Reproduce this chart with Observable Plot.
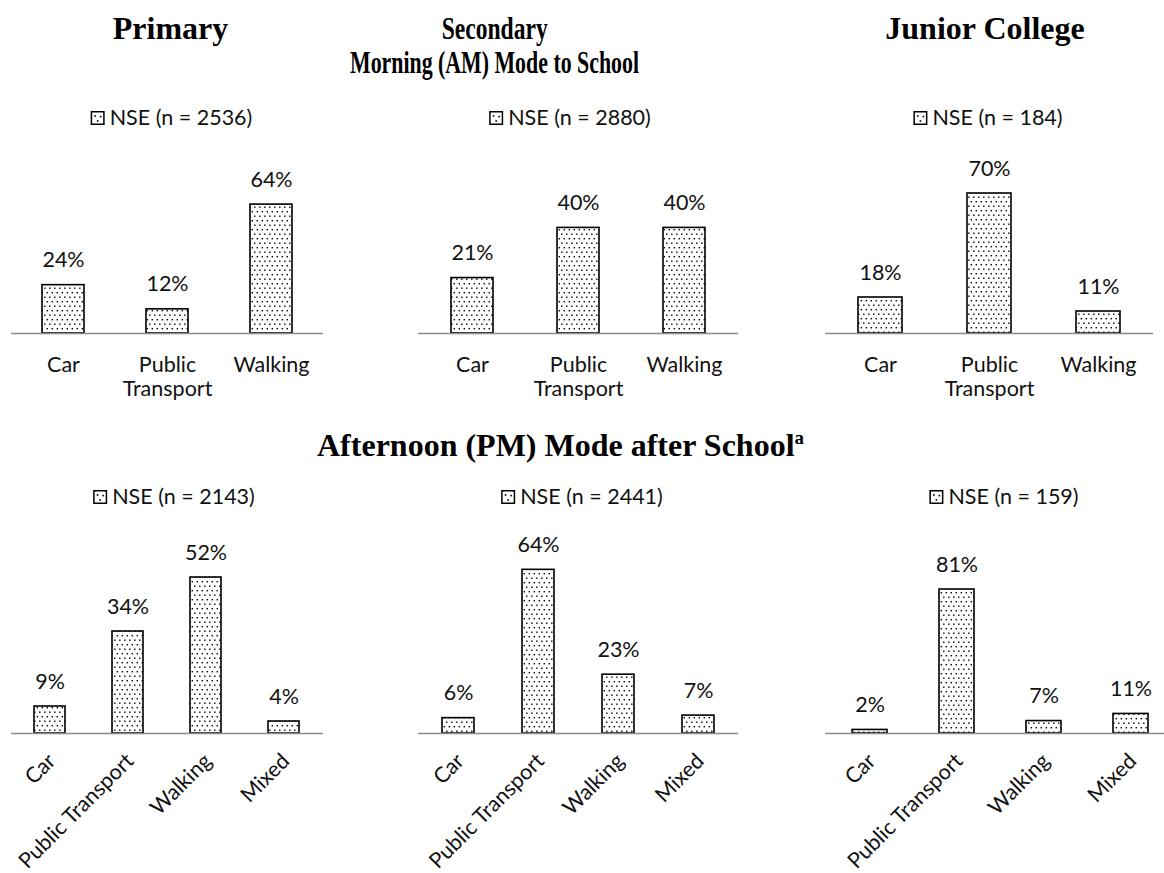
<!DOCTYPE html>
<html>
<head>
<meta charset="utf-8">
<script src="https://cdn.jsdelivr.net/npm/d3@7"></script>
<script src="https://cdn.jsdelivr.net/npm/@observablehq/plot@0.6"></script>
<style>
  body { margin: 0; background: #fff; }
  #page { position: relative; width: 1164px; height: 873px; overflow: hidden; background: #fff; }
  #overlay { position: absolute; left: 0; top: 0; pointer-events: none; }
</style>
</head>
<body>
<div id="page"></div>
<script>
// Travel mode shares (%) of NSE students, by school level and trip.
const levels = ["Primary", "Secondary", "Junior College"];
const amModes = ["Car", "Public Transport", "Walking"];
const pmModes = ["Car", "Public Transport", "Walking", "Mixed"];

const primaryAM = [24, 12, 64];
const secondaryAM = [21, 40, 40];
const juniorAM = [18, 70, 11];

const primaryPM = [9, 34, 52, 4];
const secondaryPM = [6, 64, 23, 7];
const juniorPM = [2, 81, 7, 11];

const amSampleSizes = [2536, 2880, 184];
const pmSampleSizes = [2143, 2441, 159];

const amHeading = "Morning (AM) Mode to School";
const pmHeading = "Afternoon (PM) Mode after School";
const legendName = "NSE";

const labelFont = "Lato, 'Open Sans', sans-serif";
const labelSize = 21.5;
const headFont = "'Liberation Serif', 'Times New Roman', serif";
const ink = "#111";

const page = document.getElementById("page");

// Overlay holds the shared fill pattern, headings and legends.
const overlay = d3.select(page).append("svg")
  .attr("id", "overlay")
  .attr("width", 1164)
  .attr("height", 873);

const defs = overlay.append("defs");
const pat = defs.append("pattern")
  .attr("id", "nse-dots")
  .attr("patternUnits", "userSpaceOnUse")
  .attr("width", 5)
  .attr("height", 9);
pat.append("rect").attr("width", 5).attr("height", 9).attr("fill", "#fff");
pat.append("rect").attr("x", 0.6).attr("y", 1).attr("width", 1.4).attr("height", 1.4).attr("fill", "#000");
pat.append("rect").attr("x", 3.1).attr("y", 5.5).attr("width", 1.4).attr("height", 1.4).attr("fill", "#000");

// Panel layout: category axis extent, baseline and value range of each small chart.
const panels = [
  {modes: amModes, values: primaryAM,   x0: 11,  x1: 323,  base: 332.5, ymax: 70, h: 141, rotate: false},
  {modes: amModes, values: secondaryAM, x0: 418, x1: 738,  base: 332.5, ymax: 50, h: 132, rotate: false},
  {modes: amModes, values: juniorAM,    x0: 825, x1: 1153, base: 332.5, ymax: 80, h: 160, rotate: false},
  {modes: pmModes, values: primaryPM,   x0: 11,  x1: 323,  base: 732.5, ymax: 60, h: 180, rotate: true},
  {modes: pmModes, values: secondaryPM, x0: 418, x1: 738,  base: 732.5, ymax: 70, h: 179, rotate: true},
  {modes: pmModes, values: juniorPM,    x0: 825, x1: 1175, base: 732.5, ymax: 90, h: 160, rotate: true}
];

function drawPanel(p) {
  const data = p.modes.map((mode, i) => ({mode, value: p.values[i]}));
  const categoryLabels = p.rotate
    ? Plot.text(data, {
        x: "mode", frameAnchor: "bottom", text: "mode",
        rotate: -45, textAnchor: "end", lineAnchor: "middle",
        dx: 2, dy: 24, fontSize: labelSize, fontFamily: labelFont, fill: ink
      })
    : Plot.text(data, {
        x: "mode", frameAnchor: "bottom", text: d => d.mode.replace(" ", "\n"),
        lineAnchor: "top", lineHeight: 1.12, dy: 21.5,
        fontSize: labelSize, fontFamily: labelFont, fill: ink
      });
  const chart = Plot.plot({
    width: p.x1 - p.x0,
    height: p.h,
    margin: 0,
    style: `position:absolute;left:${p.x0}px;top:${p.base - p.h}px;background:transparent;overflow:visible;max-width:none;`,
    x: {domain: p.modes, paddingInner: 0.6, paddingOuter: 0.3, axis: null},
    y: {domain: [0, p.ymax], axis: null},
    marks: [
      Plot.barY(data, {x: "mode", y: "value", fill: "url(#nse-dots)", stroke: "#000", strokeWidth: 1.6, inset: 0}),
      Plot.ruleY([0], {stroke: "#8c8c8c", strokeWidth: 1.6}),
      Plot.text(data, {
        x: "mode", y: "value", text: d => `${d.value}%`,
        lineAnchor: "bottom", dy: -18, fontSize: labelSize, fontFamily: labelFont, fill: ink
      }),
      categoryLabels
    ]
  });
  page.insertBefore(chart, overlay.node());
}
panels.forEach(drawPanel);

// Column titles and section headings.
const titleX = [170.5, 494.7, 985];
levels.forEach((name, i) => {
  const t = overlay.append("text")
    .attr("x", titleX[i]).attr("y", 39)
    .attr("text-anchor", "middle")
    .attr("font-family", headFont).attr("font-weight", "bold").attr("font-size", 32)
    .attr("fill", "#000")
    .text(name);
  if (name === "Secondary") t.attr("textLength", 106).attr("lengthAdjust", "spacingAndGlyphs");
});

overlay.append("text")
  .attr("x", 494.5).attr("y", 72.5)
  .attr("text-anchor", "middle")
  .attr("font-family", headFont).attr("font-weight", "bold").attr("font-size", 32)
  .attr("textLength", 289).attr("lengthAdjust", "spacingAndGlyphs")
  .attr("fill", "#000")
  .text(amHeading);

const pm = overlay.append("text")
  .attr("x", 317).attr("y", 456)
  .attr("font-family", headFont).attr("font-weight", "bold").attr("font-size", 32)
  .attr("fill", "#000");
pm.append("tspan").text(pmHeading);
pm.append("tspan").attr("font-size", 19).attr("dy", -12).text("a");

// Legends: one patterned swatch plus the series name and sample size.
function legend(cx, baseline, n) {
  const g = overlay.append("g");
  const label = g.append("text")
    .attr("y", baseline)
    .attr("font-family", labelFont).attr("font-size", labelSize).attr("fill", ink)
    .text(`${legendName} (n = ${n})`);
  const w = label.node().getComputedTextLength();
  const start = cx - (14 + 5 + w) / 2;
  label.attr("x", start + 19);
  const sy = baseline - 14;
  g.append("rect").attr("x", start + 0.75).attr("y", sy + 0.75).attr("width", 12.5).attr("height", 12.5)
    .attr("fill", "#fff").attr("stroke", "#000").attr("stroke-width", 1.5);
  [[3.6, 4.2], [9.2, 4.8], [6.2, 9.2]].forEach(([dx, dy]) =>
    g.append("rect").attr("x", start + dx).attr("y", sy + dy).attr("width", 1.6).attr("height", 1.6).attr("fill", "#000"));
}
const amLegendX = [171.5, 570, 988];
const pmLegendX = [174, 582, 1004];
amSampleSizes.forEach((n, i) => legend(amLegendX[i], 125, n));
pmSampleSizes.forEach((n, i) => legend(pmLegendX[i], 504, n));
</script>
</body>
</html>
